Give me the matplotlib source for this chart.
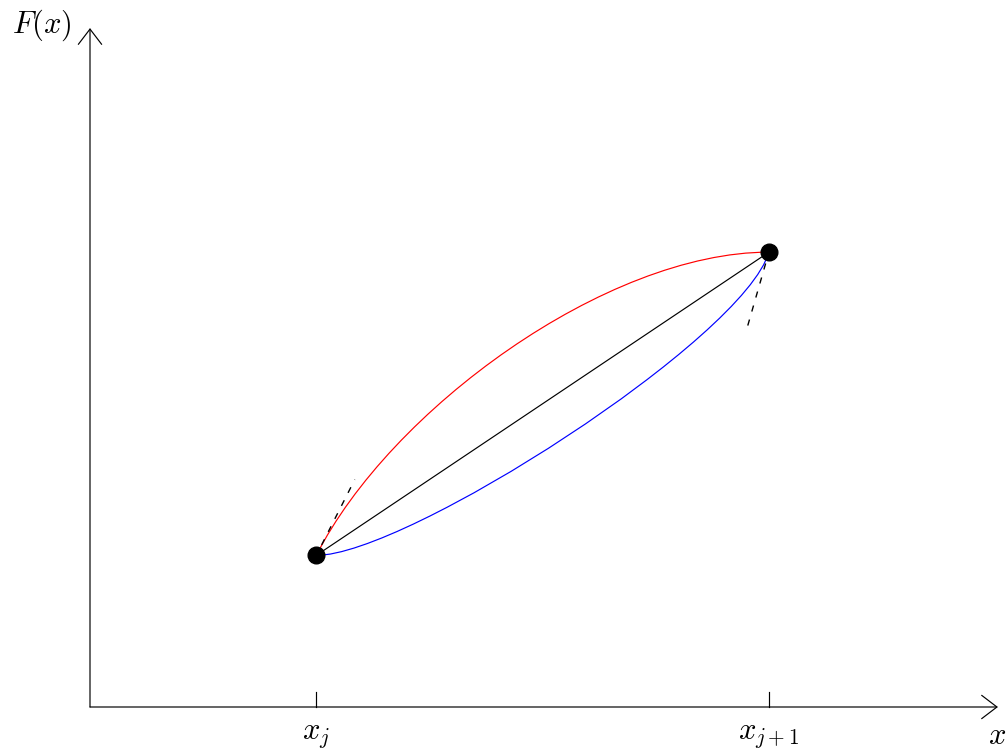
import matplotlib
matplotlib.use('Agg')
import matplotlib.pyplot as plt
from matplotlib.path import Path
from matplotlib.patches import PathPatch

plt.rcParams['mathtext.fontset'] = 'cm'
plt.rcParams['lines.scale_dashes'] = False

# one data unit = 226.3 px, origin at the axes corner
x_nodes = [1.0, 3.0]
F_nodes = [0.67, 2.01]
tick_labels = ['$x_j$', '$x_{j+1}$']

# bezier control points of the two curves
red_ctrl = [(1.325, 1.312), (2.28, 2.01)]
blue_ctrl = [(1.398, 0.67), (2.89, 1.628)]

# dashed tangent ends (red at x_j, blue at x_{j+1})
tan_left = (1.17, 1.005)
tan_right = (2.901, 1.666)

x_end = 4.012
y_end = 3.0

fig = plt.figure(figsize=(10.08, 7.51), dpi=100)
ax = fig.add_axes([0, 0, 1, 1])
ax.set_xlim(-90 / 226.3, 918 / 226.3)
ax.set_ylim(-44 / 226.3, 707 / 226.3)
ax.axis('off')

arr = dict(arrowstyle='->,head_length=0.55,head_width=0.42', lw=0.85,
           color='black', shrinkA=0, shrinkB=0, mutation_scale=20)
ax.annotate('', xy=(x_end, 0), xytext=(0, 0), arrowprops=arr)
ax.annotate('', xy=(0, y_end), xytext=(0, 0), arrowprops=arr)

for xn, lab in zip(x_nodes, tick_labels):
    ax.plot([xn, xn], [0, 0.066], color='black', lw=0.85)
    ax.text(xn, -0.125, lab, ha='center', va='center', fontsize=22)

ax.text(x_end - 0.004, -0.125, '$x$', ha='center', va='center', fontsize=22)
ax.text(-0.212, 3.014, '$F(x)$', ha='center', va='center', fontsize=22)

A = (x_nodes[0], F_nodes[0])
B = (x_nodes[1], F_nodes[1])
codes = [Path.MOVETO, Path.CURVE4, Path.CURVE4, Path.CURVE4]

red = Path([A, red_ctrl[0], red_ctrl[1], B], codes)
blue = Path([A, blue_ctrl[0], blue_ctrl[1], B], codes)
ax.add_patch(PathPatch(red, fill=False, edgecolor='red', lw=0.85))
ax.add_patch(PathPatch(blue, fill=False, edgecolor='blue', lw=0.85))

ax.plot([A[0], B[0]], [A[1], B[1]], color='black', lw=0.85)

ax.plot([A[0], tan_left[0]], [A[1], tan_left[1]], color='black', lw=1.0,
        linestyle=(2, (4.5, 6)))
ax.plot([B[0], tan_right[0]], [B[1], tan_right[1]], color='black', lw=1.0,
        linestyle=(2, (4.5, 6)))

ax.plot(x_nodes, F_nodes, 'o', color='black', markersize=12, zorder=5)

fig.savefig('out.png', dpi=100)
